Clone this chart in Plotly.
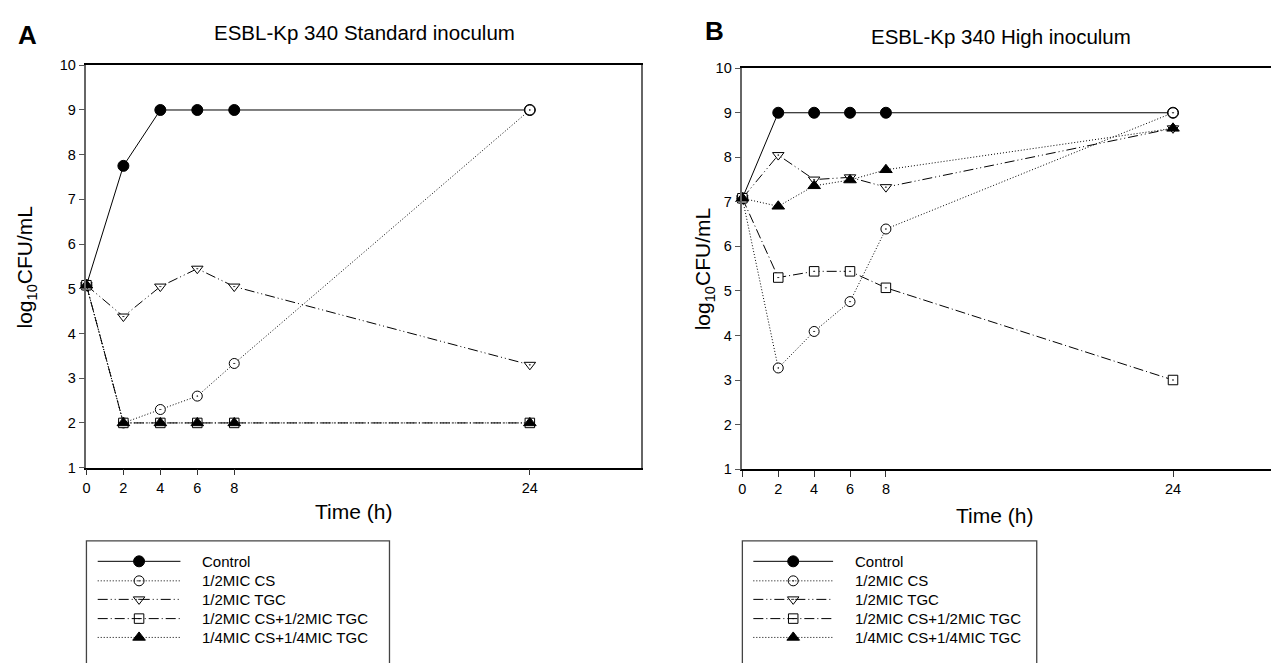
import plotly.graph_objects as go

W, H = 1271, 663

# ---------------- data ----------------
time_h = [0, 2, 4, 6, 8, 24]
x_tick_labels = ["0", "2", "4", "6", "8", "24"]
series_names = ["Control", "1/2MIC CS", "1/2MIC TGC",
                "1/2MIC CS+1/2MIC TGC", "1/4MIC CS+1/4MIC TGC"]

a_control = [5.08, 7.75, 9.0, 9.0, 9.0, 9.0]
a_cs = [5.08, 2.0, 2.3, 2.6, 3.33, 9.0]
a_tgc = [5.08, 4.38, 5.05, 5.45, 5.05, 3.3]
a_cs_tgc = [5.08, 2.0, 2.0, 2.0, 2.0, 2.0]
a_quarter = [5.08, 2.0, 2.0, 2.0, 2.0, 2.0]

b_control = [7.08, 9.0, 9.0, 9.0, 9.0, 9.0]
b_cs = [7.08, 3.27, 4.09, 4.76, 6.39, 9.0]
b_tgc = [7.08, 8.05, 7.5, 7.55, 7.33, 8.65]
b_cs_tgc = [7.08, 5.3, 5.44, 5.44, 5.07, 3.0]
b_quarter = [7.08, 6.9, 7.36, 7.49, 7.72, 8.65]

panel_a = [a_control, a_cs, a_tgc, a_cs_tgc, a_quarter]
panel_b = [b_control, b_cs, b_tgc, b_cs_tgc, b_quarter]

# ---------------- styles ----------------
DOT = "1px,2px"
DASH_DOT_DOT = "10px,3px,1px,3px,1px,3px"
DASH_DOT = "10px,3px,1px,3px"
styles = [
    dict(dash="solid", symbol="circle", fill="black", size=11),
    dict(dash=DOT, symbol="circle-dot", fill="white", size=10),
    dict(dash=DASH_DOT_DOT, symbol="triangle-down-dot", fill="white", size=10),
    dict(dash=DASH_DOT, symbol="square-dot", fill="white", size=9.5),
    dict(dash=DOT, symbol="triangle-up", fill="black", size=11),
]

FONT = "Liberation Sans, Arial, sans-serif"


def px(x):
    return x / W


def py(y):
    return 1 - y / H


fig = go.Figure()

for data, xa, ya in [(panel_a, "x", "y"), (panel_b, "x2", "y2")]:
    for name, vals, st in zip(series_names, data, styles):
        fig.add_trace(go.Scatter(
            x=time_h, y=vals, mode="lines+markers", name=name,
            xaxis=xa, yaxis=ya, showlegend=False,
            line=dict(color="black", width=1, dash=st["dash"]),
            marker=dict(symbol=st["symbol"], size=st["size"], color=st["fill"],
                        line=dict(color="black", width=1)),
            cliponaxis=False,
        ))

# ---------------- custom legends ----------------
legend_rows = [567, 587, 606, 625.7, 645]
legend_boxes = [
    dict(left=82.7, right=386.7, line0=94, line1=177, text=197),
    dict(left=740.7, right=1036, line0=751.7, line1=831.7, text=852),
]
shapes = []
annotations = []
for box in legend_boxes:
    shapes.append(dict(type="rect", xref="paper", yref="paper",
                       x0=px(box["left"]), x1=px(box["right"]),
                       y0=py(720), y1=py(546),
                       line=dict(color="#444", width=1.3), fillcolor="rgba(0,0,0,0)"))
    for row_y, name, st in zip(legend_rows, series_names, styles):
        shapes.append(dict(type="line", xref="paper", yref="paper",
                           x0=px(box["line0"]), x1=px(box["line1"]),
                           y0=py(row_y), y1=py(row_y),
                           line=dict(color="black", width=1, dash=st["dash"])))
        annotations.append(dict(text=name, xref="paper", yref="paper",
                                x=px(box["text"]), y=py(row_y), xanchor="left",
                                yanchor="middle", showarrow=False,
                                font=dict(family=FONT, size=15, color="black")))
for box in legend_boxes:
    mid = (box["line0"] + box["line1"]) / 2
    fig.add_trace(go.Scatter(
        x=[mid] * len(legend_rows), y=legend_rows, mode="markers",
        xaxis="x3", yaxis="y3", showlegend=False, hoverinfo="skip",
        marker=dict(symbol=[s["symbol"] for s in styles],
                    size=[s["size"] for s in styles],
                    color=[s["fill"] for s in styles],
                    opacity=1,
                    line=dict(color="black", width=1)),
        cliponaxis=False,
    ))

# ---------------- text ----------------
def txt(s, x, y, size, bold=False, angle=0):
    annotations.append(dict(text=f"<b>{s}</b>" if bold else s, xref="paper", yref="paper",
                            x=px(x), y=py(y), xanchor="center", yanchor="middle",
                            showarrow=False, textangle=angle,
                            font=dict(family=FONT, size=size, color="black")))


txt("A", 24, 28, 26, bold=True)
txt("B", 713, 24, 26, bold=True)
txt("ESBL-Kp 340 Standard inoculum", 362, 25, 20.5)
txt("ESBL-Kp 340 High inoculum", 1000, 29, 20.5)
txt("Time (h)", 351, 516, 21)
txt("Time (h)", 994, 520, 21)
txt("log<sub>10</sub>CFU/mL", 22, 265, 21, angle=-90)
txt("log<sub>10</sub>CFU/mL", 702, 267, 21, angle=-90)

# ---------------- axes ----------------
tickfont = dict(family=FONT, size=14.5, color="black")
xcommon = dict(tickmode="array", tickvals=time_h, ticktext=x_tick_labels,
               ticks="outside", ticklen=6, tickcolor="#333", showgrid=False,
               zeroline=False, showline=True, linecolor="black", linewidth=1.5,
               tickfont=tickfont)
ycommon = dict(tickmode="linear", tick0=1, dtick=1, ticks="outside", ticklen=6,
               tickcolor="#555", showgrid=False, zeroline=False, showline=True,
               linecolor="#666", linewidth=1.5, tickfont=tickfont)

fig.update_layout(
    width=W, height=H, margin=dict(l=0, r=0, t=0, b=0),
    paper_bgcolor="white", plot_bgcolor="rgba(0,0,0,0)", showlegend=False,
    xaxis=dict(domain=[px(82.7), px(638.7)], range=[0, 30], anchor="y",
               mirror=True, **xcommon),
    yaxis=dict(domain=[py(471), py(58.7)], range=[1, 10], anchor="x",
               mirror=True, **ycommon),
    xaxis2=dict(domain=[px(740.7), 1.0], range=[0, (W - 740.7) / 18.0], anchor="y2",
                mirror=True, **xcommon),
    yaxis2=dict(domain=[py(472.5), py(61.7)], range=[1, 10], anchor="x2",
                mirror=False, **ycommon),
    xaxis3=dict(domain=[0, 1], range=[0, W], visible=False, anchor="y3",
                fixedrange=True),
    yaxis3=dict(domain=[0, 1], range=[H, 0], visible=False, anchor="x3",
                fixedrange=True),
    shapes=shapes, annotations=annotations,
)

# remove the default 8px body margin so the figure fills the window exactly
fig.write_html("out.html", config={"displayModeBar": False},
               post_script="document.body.style.margin='0px';")
